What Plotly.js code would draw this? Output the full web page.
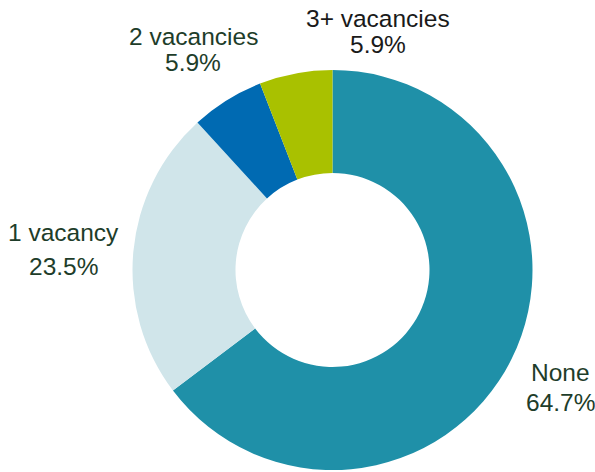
<!DOCTYPE html>
<html><head><meta charset="utf-8">
<script src="https://cdn.plot.ly/plotly-3.0.1.min.js"></script>
<style>html,body{margin:0;padding:0;background:#fff}#c{width:595px;height:472px}</style>
</head><body><div id="c"></div>
<script>
const categories = ["None", "1 vacancy", "2 vacancies", "3+ vacancies"];
const values = [64.7, 23.5, 5.9, 5.9];
const colors = ["#1f90a8", "#d0e5ea", "#006ab2", "#a9c100"];
const labelColors = ["#1e3d2a", "#1e3d2a", "#1e3d2a", "#1a1a1a"];
// label anchor positions (paper coords): [x, yLabel, yPercent]
const labelPos = [
  [560/595, 1-372/472, 1-402/472],
  [63/595, 1-232/472, 1-266/472],
  [193/595, 1-36/472, 1-63/472],
  [378/595, 1-18/472, 1-45/472]
];
const annotations = [];
categories.forEach((c, i) => {
  const f = {family: "Liberation Sans, Arial, sans-serif", size: 24.5, color: labelColors[i]};
  annotations.push({text: c, x: labelPos[i][0], y: labelPos[i][1], xref: "paper", yref: "paper", showarrow: false, font: f, xanchor: "center", yanchor: "middle"});
  annotations.push({text: values[i].toFixed(1) + "%", x: labelPos[i][0], y: labelPos[i][2], xref: "paper", yref: "paper", showarrow: false, font: f, xanchor: "center", yanchor: "middle"});
});
Plotly.newPlot("c", [{
  type: "pie",
  labels: categories,
  values: values,
  marker: {colors: colors, line: {width: 0}},
  hole: 0.485,
  sort: false,
  direction: "clockwise",
  rotation: 0,
  textinfo: "none",
  hoverinfo: "label+percent",
  domain: {x: [132/595, 533/595], y: [2/472, 1-70/472]}
}], {
  width: 595, height: 472,
  margin: {l: 0, r: 0, t: 0, b: 0},
  showlegend: false,
  paper_bgcolor: "#fff",
  annotations: annotations
}, {displayModeBar: false});
</script></body></html>
